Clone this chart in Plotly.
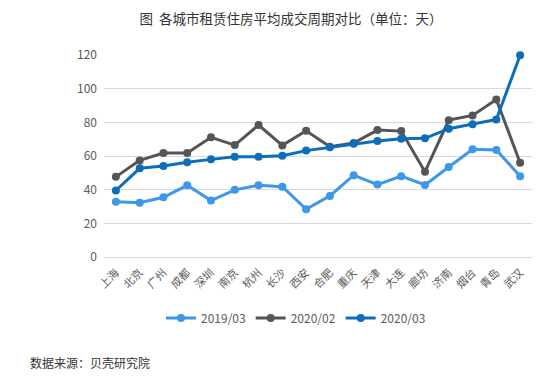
import plotly.graph_objects as go

cities = ["上海", "北京", "广州", "成都", "深圳", "南京", "杭州", "长沙", "西安",
          "合肥", "重庆", "天津", "大连", "廊坊", "济南", "烟台", "青岛", "武汉"]
s2019_03 = [32.8, 32.2, 35.5, 42.6, 33.5, 39.9, 42.6, 41.8, 28.4,
            36.3, 48.6, 43.0, 48.0, 42.8, 53.5, 64.0, 63.6, 48.0]
s2020_02 = [47.6, 57.4, 61.8, 61.8, 71.1, 66.5, 78.4, 66.3, 75.0,
            65.5, 67.7, 75.4, 74.8, 50.7, 81.3, 84.1, 93.6, 56.0]
s2020_03 = [39.5, 52.7, 54.1, 56.3, 58.0, 59.6, 59.6, 60.2, 63.2,
            65.2, 67.3, 68.9, 70.3, 70.5, 76.2, 78.8, 81.7, 119.8]
y_ticks = [0, 20, 40, 60, 80, 100, 120]

series = [("2019/03", s2019_03, "#3E97E8"),
          ("2020/02", s2020_02, "#555555"),
          ("2020/03", s2020_03, "#0C6DBA")]

FONT = "Noto Sans CJK SC, Microsoft YaHei, sans-serif"

# page body has an 8px default margin, so the figure is sized/offset accordingly
W, H = 536, 369

fig = go.Figure()
for name, vals, col in series:
    fig.add_trace(go.Scatter(
        x=cities, y=vals, name=name, mode="lines+markers",
        line=dict(color=col, width=3), marker=dict(color=col, size=8),
        cliponaxis=False))

fig.update_layout(
    width=W, height=H,
    margin=dict(l=96, r=12, t=47, b=120),
    paper_bgcolor="white", plot_bgcolor="white",
    font=dict(family=FONT, color="#595959", size=12),
    title=dict(text="图  各城市租赁住房平均成交周期对比（单位：天）",
               x=283 / W, xanchor="center", xref="container",
               y=1 - 11 / H, yanchor="middle", yref="container",
               font=dict(size=13.5, color="#333333", family=FONT)),
    showlegend=True,
    legend=dict(orientation="h", x=288 / W, xanchor="center", xref="container",
                y=1 - 310 / H, yanchor="middle", yref="container",
                font=dict(size=12, color="#595959"), itemwidth=30,
                traceorder="normal"),
    xaxis=dict(type="category", tickangle=-45, showgrid=False, showline=False,
               ticks="", tickfont=dict(size=11, color="#595959"), ticklabelstandoff=6,
               range=[-0.5, len(cities) - 0.5], automargin=False),
    yaxis=dict(range=[0, 120], tickvals=y_ticks, showgrid=True, gridcolor="#D9D9D9",
               gridwidth=1, zeroline=True, zerolinecolor="#D9D9D9", zerolinewidth=1,
               ticks="", tickfont=dict(size=12, color="#595959"), ticklabelstandoff=6,
               automargin=False),
    annotations=[dict(text="数据来源：贝壳研究院", xref="paper", yref="paper",
                      x=(20 - 96) / 428, xanchor="left",
                      y=(249 - 354) / 202, yanchor="middle",
                      showarrow=False, font=dict(size=12, color="#333333", family=FONT))],
)

fig.write_html("out.html")
